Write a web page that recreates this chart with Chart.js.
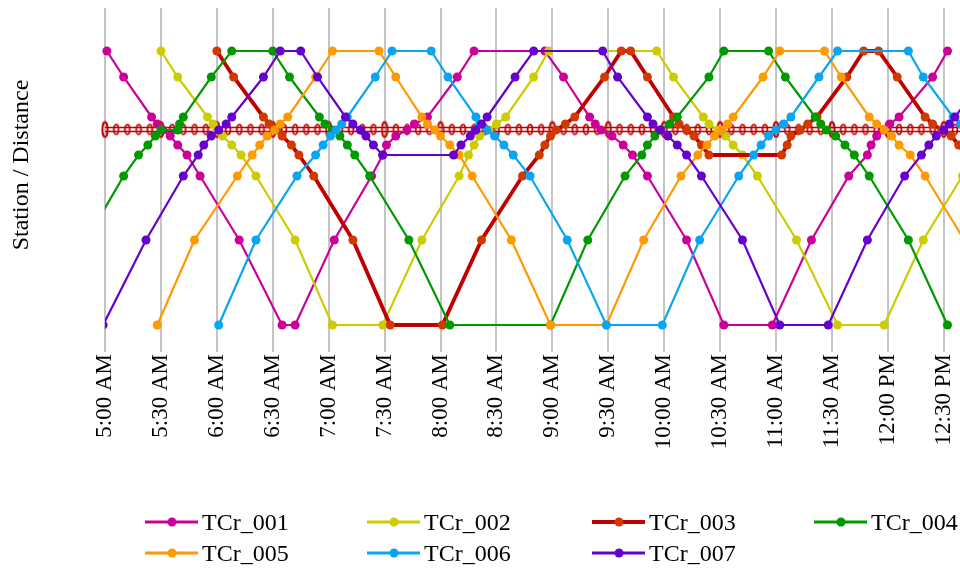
<!DOCTYPE html>
<html>
<head>
<meta charset="utf-8">
<script src="https://cdn.jsdelivr.net/npm/chart.js@4.4.1/dist/chart.umd.min.js"></script>
<style>
  html, body { margin: 0; padding: 0; background: #fff; }
  #wrap { position: relative; width: 960px; height: 568px; }
  #legend { position: absolute; left: 0; top: 0; width: 960px; height: 568px; pointer-events: none;
            font-family: 'Liberation Serif', 'Times New Roman', serif; font-size: 24px; color: #000; }
  .item { position: absolute; display: flex; align-items: center; height: 30px; white-space: nowrap; }
  .sym { position: relative; width: 53px; height: 30px; margin-right: 4px; }
  .sym .ln { position: absolute; left: 0; right: 0; top: 50%; transform: translateY(-50%); }
  .sym .dot { position: absolute; left: 50%; top: 50%; width: 9px; height: 9px; border-radius: 50%;
              transform: translate(-50%, -50%); }
</style>
</head>
<body>
<div id="wrap">
  <canvas id="chart" width="960" height="568"></canvas>
  <div id="legend"></div>
</div>
<script>
const SERIES_NAMES  = ['TCr_001', 'TCr_002', 'TCr_003', 'TCr_004', 'TCr_005', 'TCr_006', 'TCr_007'];
const LINE_COLORS   = ['#CC0099', '#CCCC00', '#C00000', '#009900', '#FF9900', '#0AA5F0', '#6600CC'];
const MARKER_COLORS = ['#CC0099', '#CCCC00', '#D03A00', '#009900', '#FF9900', '#0AA5F0', '#6600CC'];
const LINE_WIDTHS   = [2.2, 2.2, 3.8, 2.2, 2.2, 2.2, 2.2];
const Y_TITLE = 'Station / Distance';

// station positions along the line, km from the lower terminus (top of chart = first station)
const STATION_KM = [27.4, 24.8, 20.8, 20.1, 19.5, 18.9, 18.0, 17.0, 14.9, 8.5, 0];

const TCR_001_TIMES = ['5:01','5:10','5:25','5:28','5:31','5:35','5:39','5:44','5:51','6:12','6:35',
  '6:42','7:03','7:23','7:29','7:31','7:36','7:42','7:46','7:53','8:09','8:18',
  '8:56','9:06','9:20','9:23','9:26','9:32','9:38','9:43','9:51','10:12','10:32',
  '10:58','11:19','11:39','11:49','11:51','11:54','11:57','12:01','12:06','12:24','12:32'];
const TCR_001_STOPS = [0,1,2,3,4,5,6,7,8,9,10, 10,9,8,7,6,5,4,3,2,1,0, 0,1,2,3,4,5,6,7,8,9,10, 10,9,8,7,6,5,4,3,2,1,0];

const TCR_002_TIMES = ['5:30','5:39','5:55','5:58','6:00','6:03','6:08','6:13','6:21','6:42','7:02',
  '7:29','7:50','8:10','8:15','8:18','8:21','8:26','8:30','8:35','8:50','8:58',
  '9:56','10:05','10:21','10:24','10:29','10:33','10:37','10:42','10:50','11:11','11:33',
  '11:58','12:19','12:40'];
const TCR_002_STOPS = [0,1,2,3,4,5,6,7,8,9,10, 10,9,8,7,6,5,4,3,2,1,0, 0,1,2,3,4,5,6,7,8,9,10, 10,9,8];

const TCR_003_TIMES = ['6:00','6:09','6:25','6:28','6:32','6:35','6:40','6:44','6:52','7:13','7:33',
  '8:01','8:22','8:44','8:53','8:56','8:59','9:02','9:07','9:12','9:28','9:37',
  '9:42','9:51','10:05','10:08','10:12','10:16','10:20','10:24',
  '11:03','11:06','11:08','11:13','11:17','11:22','11:38','11:47',
  '11:55','12:05','12:20','12:24','12:29','12:34','12:38','12:42'];
const TCR_003_STOPS = [0,1,2,3,4,5,6,7,8,9,10, 10,9,8,7,6,5,4,3,2,1,0, 0,1,2,3,4,5,6,7, 7,6,5,4,3,2,1,0, 0,1,2,3,4,5,6,7];

const TCR_004_TIMES = ['4:50','5:10','5:18','5:23','5:27','5:30','5:39','5:40','5:42','5:57','6:08',
  '6:30','6:39','6:55','6:58','7:02','7:06','7:10','7:14','7:22','7:43','8:05',
  '8:59','9:19','9:39','9:48','9:51','9:55','9:58','10:03','10:07','10:24','10:32',
  '10:56','11:05','11:21','11:24','11:27','11:32','11:37','11:42','11:50','12:11','12:32'];
const TCR_004_STOPS = [9,8,7,6,5,4,4,3,2,1,0, 0,1,2,3,4,5,6,7,8,9,10, 10,9,8,7,6,5,4,3,2,1,0, 0,1,2,3,4,5,6,7,8,9,10];

const TCR_005_TIMES = ['5:28','5:48','6:11','6:19','6:23','6:27','6:31','6:34','6:38','6:53','7:02',
  '7:27','7:36','7:50','7:53','7:57','8:00','8:05','8:10','8:17','8:38','8:59',
  '9:29','9:49','10:09','10:18','10:23','10:27','10:31','10:34','10:37','10:53','11:02',
  '11:26','11:35','11:50','11:54','11:58','12:02','12:06','12:12','12:20','12:41'];
const TCR_005_STOPS = [10,9,8,7,6,5,4,3,2,1,0, 0,1,2,3,4,5,6,7,8,9,10, 10,9,8,7,6,5,4,3,2,1,0, 0,1,2,3,4,5,6,7,8,9];

const TCR_006_TIMES = ['6:01','6:21','6:43','6:53','6:57','7:01','7:04','7:07','7:10','7:25','7:34',
  '7:55','8:04','8:19','8:21','8:25','8:29','8:34','8:39','8:48','9:08','9:29',
  '9:59','10:19','10:40','10:48','10:52','10:56','11:00','11:04','11:08','11:23','11:33',
  '12:11','12:19','12:35','12:39'];
const TCR_006_STOPS = [10,9,8,7,6,5,4,3,2,1,0, 0,1,2,3,4,5,6,7,8,9,10, 10,9,8,7,6,5,4,3,2,1,0, 0,1,2,3];

const TCR_007_TIMES = ['4:59','5:22','5:42','5:50','5:53','5:57','6:01','6:05','6:08','6:25','6:34',
  '6:45','6:54','7:09','7:13','7:17','7:20','7:24','7:29',
  '8:07','8:11','8:16','8:19','8:22','8:25','8:40','8:50',
  '9:27','9:35','9:51','9:54','9:58','10:02','10:07','10:12','10:20','10:42','11:02',
  '11:28','11:49','12:09','12:18','12:22','12:26','12:30','12:33','12:36','12:52'];
const TCR_007_STOPS = [10,9,8,7,6,5,4,3,2,1,0, 0,1,2,3,4,5,6,7, 7,6,5,4,3,2,1,0, 0,1,2,3,4,5,6,7,8,9,10, 10,9,8,7,6,5,4,3,2,1];

// the red track drawn across the station group in the middle
const RAIL_KM_UPPER = 19.75;
const RAIL_KM_LOWER = 19.35;
const RAIL_KM_MID   = 19.55;
const RAIL_SPAN     = ['5:00', '12:40'];
const RAIL_POSTS = ['5:00','5:30','6:00','6:30','7:00','7:30','8:00','8:30','9:00','9:30','10:00','10:30','11:00','11:30','12:00','12:30'];
const RAIL_RINGS = [
  '5:06','5:12','5:18','5:24','5:36','5:42','5:48','5:54',
  '6:06','6:12','6:18','6:24','6:36','6:42','6:48','6:54',
  '7:06','7:12','7:18','7:24','7:36','7:42','7:48','7:54',
  '8:06','8:12','8:18','8:24','8:36','8:42','8:48','8:54',
  '9:06','9:12','9:18','9:24','9:36','9:42','9:48','9:54',
  '10:06','10:12','10:18','10:24','10:36','10:42','10:48','10:54',
  '11:06','11:12','11:18','11:24','11:36','11:42','11:48','11:54',
  '12:06','12:12','12:18','12:24','12:36'];

const X_START = '5:00';
const X_END_MIN = 758.7;   // plot is cut at the right edge
const X_STEP = 30;

const TRAINS = [
  [TCR_001_TIMES, TCR_001_STOPS], [TCR_002_TIMES, TCR_002_STOPS], [TCR_003_TIMES, TCR_003_STOPS],
  [TCR_004_TIMES, TCR_004_STOPS], [TCR_005_TIMES, TCR_005_STOPS], [TCR_006_TIMES, TCR_006_STOPS],
  [TCR_007_TIMES, TCR_007_STOPS],
];

const FONT = "'Liberation Serif', 'Times New Roman', serif";
const RAIL_COLOR = '#C00000';

function toMin(s) {
  const [h, m] = s.split(':').map(Number);
  return h * 60 + m;
}

function timeLabel(v) {
  const h = Math.floor(v / 60), m = Math.round(v % 60);
  const ap = h >= 12 ? 'PM' : 'AM';
  const hh = h > 12 ? h - 12 : h;
  return `${hh}:${String(m).padStart(2, '0')} ${ap}`;
}

function ovalStyle(w, h, rx, ry, lw) {
  const c = document.createElement('canvas');
  c.width = w; c.height = h;
  const g = c.getContext('2d');
  g.strokeStyle = RAIL_COLOR;
  g.lineWidth = lw;
  g.beginPath();
  g.ellipse(w / 2, h / 2, rx, ry, 0, 0, Math.PI * 2);
  g.stroke();
  return c;
}

const trainSets = TRAINS.map(([times, stops], i) => ({
  label:                SERIES_NAMES[i],
  data:                 times.map((t, k) => ({ x: toMin(t), y: STATION_KM[stops[k]] })),
  borderColor:          LINE_COLORS[i],
  backgroundColor:      MARKER_COLORS[i],
  pointBackgroundColor: MARKER_COLORS[i],
  pointBorderWidth:     0,
  pointRadius:          4.5,
  borderWidth:          LINE_WIDTHS[i],
  tension:              0,
  order:                10 - i,
  clip:                 { left: (i === 3 || i === 6) ? 0 : 6, top: 10, right: 0, bottom: 10 },
}));

const railSets = [
  { label: 'rail_u', data: RAIL_SPAN.map(t => ({ x: toMin(t), y: RAIL_KM_UPPER })) },
  { label: 'rail_l', data: RAIL_SPAN.map(t => ({ x: toMin(t), y: RAIL_KM_LOWER })) },
].map(d => ({ ...d, borderColor: RAIL_COLOR, borderWidth: 1.6, pointRadius: 0, order: 100, clip: { left: 0, top: 0, right: 0, bottom: 0 } }));

railSets.push({
  label: 'rail_rings',
  data: RAIL_RINGS.map(t => ({ x: toMin(t), y: RAIL_KM_MID })),
  showLine: false,
  pointStyle: ovalStyle(8, 14, 2.4, 4.8, 1.8),
  pointRadius: 5,
  order: 99,
});
railSets.push({
  label: 'rail_posts',
  data: RAIL_POSTS.map(t => ({ x: toMin(t), y: RAIL_KM_MID })),
  showLine: false,
  pointStyle: ovalStyle(8, 20, 2.6, 7.5, 2),
  pointRadius: 5,
  order: 99,
  clip: { left: 6, top: 0, right: 0, bottom: 0 },
});

// y-axis title placed where the original has it (slightly above the plot's middle)
const yTitlePlugin = {
  id: 'yTitle',
  afterDraw(chart) {
    const ctx = chart.ctx;
    ctx.save();
    ctx.translate(22, 165);
    ctx.rotate(-Math.PI / 2);
    ctx.font = `24px ${FONT}`;
    ctx.fillStyle = '#000';
    ctx.textAlign = 'center';
    ctx.textBaseline = 'middle';
    ctx.fillText(Y_TITLE, 0, 0);
    ctx.restore();
  },
};

new Chart(document.getElementById('chart'), {
  type: 'line',
  data: { datasets: [...trainSets, ...railSets] },
  plugins: [yTitlePlugin],
  options: {
    responsive: false,
    animation: false,
    layout: { autoPadding: false, padding: { left: 4, top: 8, right: 0, bottom: 105 } },
    plugins: { legend: { display: false }, tooltip: { enabled: false } },
    scales: {
      x: {
        type: 'linear',
        min: toMin(X_START),
        max: X_END_MIN,
        afterFit: s => { s.height = 120; s.paddingLeft = 0; s.paddingRight = 0; },
        border: { display: false },
        grid: { color: '#C4C4C4', lineWidth: 2, tickLength: 9, tickColor: '#C4C4C4' },
        ticks: {
          stepSize: X_STEP,
          includeBounds: false,
          minRotation: 90,
          maxRotation: 90,
          padding: 2,
          color: '#000',
          font: { family: FONT, size: 23 },
          callback: v => timeLabel(v),
        },
      },
      y: {
        type: 'linear',
        min: -1.8,
        max: 31.7,
        afterFit: s => { s.width = 101; },
        border: { display: false },
        grid: { display: false },
        ticks: { display: false },
        title: { display: false },
      },
    },
  },
});

// legend laid out like the original: 4 columns, 2 rows
const LEGEND_COLS = [145, 367, 592, 814];
const LEGEND_ROWS = [507, 538];
const legend = document.getElementById('legend');
SERIES_NAMES.forEach((name, i) => {
  const item = document.createElement('div');
  item.className = 'item';
  item.style.left = LEGEND_COLS[i % 4] + 'px';
  item.style.top  = LEGEND_ROWS[Math.floor(i / 4)] + 'px';
  item.innerHTML = `<span class="sym"><span class="ln" style="height:${i === 2 ? 4 : 3}px;background:${LINE_COLORS[i]}"></span>` +
    `<span class="dot" style="background:${MARKER_COLORS[i]}"></span></span><span>${name}</span>`;
  legend.appendChild(item);
});
</script>
</body>
</html>
